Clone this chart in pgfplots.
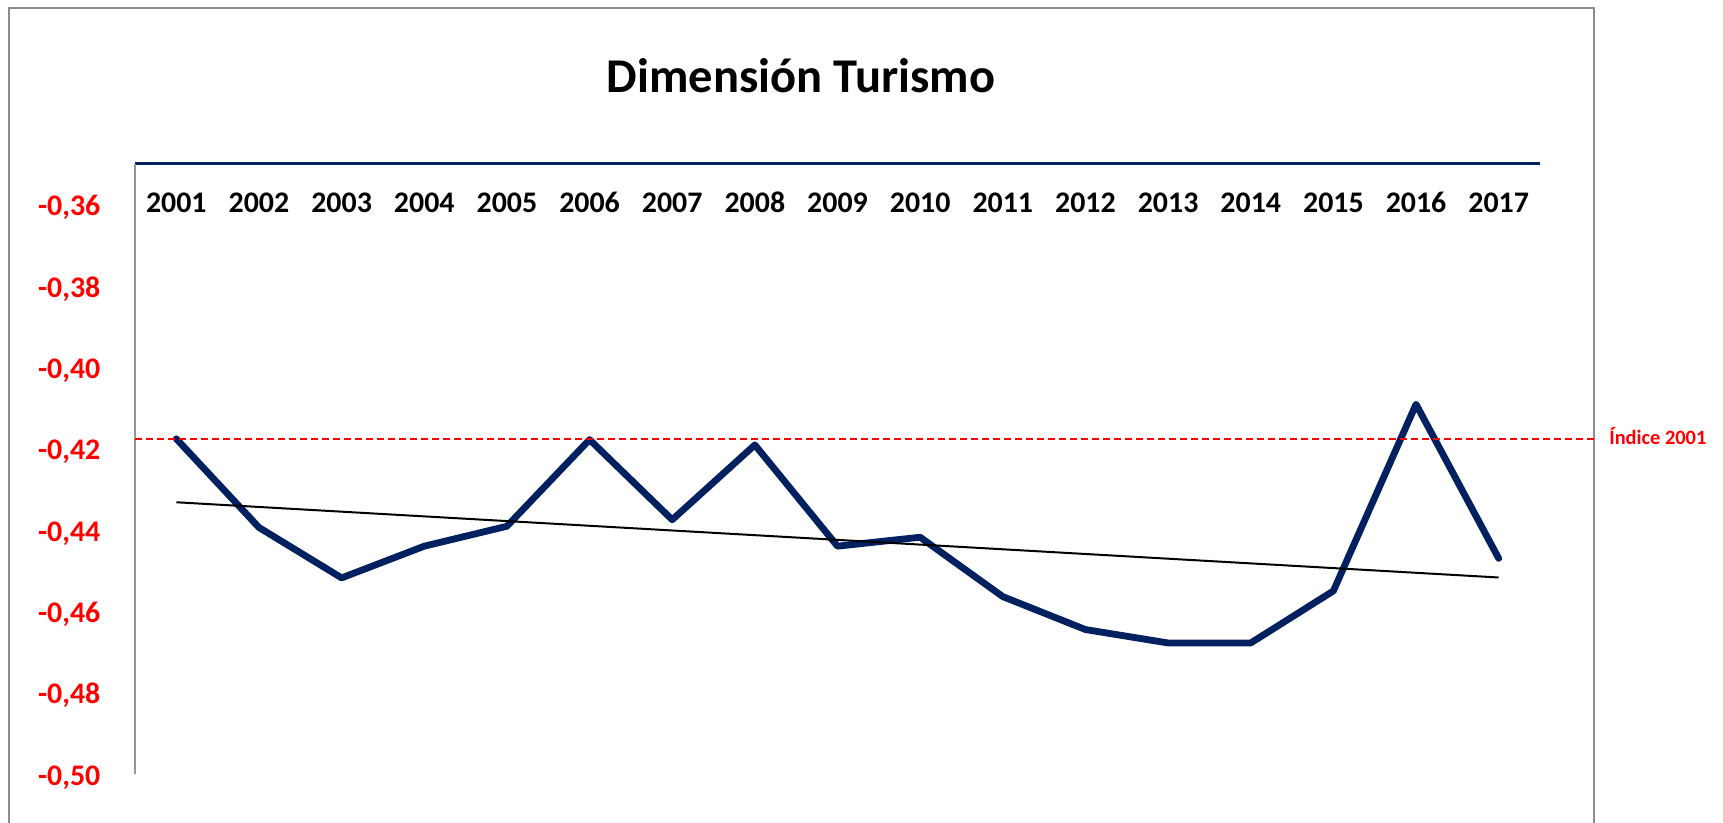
\documentclass[border=0pt]{standalone}
\usepackage{pgfplots}
\pgfplotsset{compat=1.18}
\usepackage{fontspec}
\setmainfont{Carlito}
\definecolor{navy}{HTML}{002060}
\definecolor{framegray}{HTML}{8C8C8C}
\definecolor{axgray}{HTML}{969696}
\definecolor{idxred}{HTML}{FF0000}
\begin{document}
\begin{tikzpicture}
\path[use as bounding box] (0mm,0mm) rectangle (172.3mm,-82.2mm);
\begin{scope}
\clip (0mm,0mm) rectangle (172.3mm,-82.2mm);
\draw[framegray, line width=0.2mm] (0.9mm,-0.75mm) rectangle (159.4mm,-95mm);
\end{scope}
\node[anchor=base, inner sep=0pt, font=\fontsize{13.8}{16}\selectfont\bfseries] at (80.1mm,-9.2mm) {Dimensión Turismo};
\begin{axis}[
  at={(13.5mm,-16.35mm)}, anchor=north west,
  width=140.5mm, height=61mm, scale only axis,
  xmin=2000.5, xmax=2017.5, ymin=-0.50, ymax=-0.35,
  axis x line*=top, axis y line*=left,
  x axis line style={navy, line width=0.25mm, -},
  y axis line style={axgray, line width=0.2mm, -},
  tick style={draw=none}, major tick length=0pt,
  xtick={2001,2002,2003,2004,2005,2006,2007,2008,2009,2010,2011,2012,2013,2014,2015,2016,2017},
  ytick={-0.50,-0.48,-0.46,-0.44,-0.42,-0.40,-0.38,-0.36},
  /pgf/number format/assume math mode=true,
  xticklabel style={font=\fontsize{8.5}{10}\selectfont\bfseries, anchor=base, inner sep=0pt, yshift=-4.9mm, /pgf/number format/1000 sep={}},
  yticklabel style={font=\fontsize{8.5}{10}\selectfont\bfseries, text=idxred, anchor=base east, inner sep=0pt, xshift=-3.4mm, yshift=-1.15mm, /pgf/number format/.cd, fixed, fixed zerofill, precision=2, use comma},
  clip=false,
]
\addplot[navy, line width=0.68mm, line cap=round, line join=round] coordinates {
 (2001,-0.4177) (2002,-0.4395) (2003,-0.4519) (2004,-0.4441) (2005,-0.4392)
 (2006,-0.4179) (2007,-0.4376) (2008,-0.4192) (2009,-0.4441) (2010,-0.4419)
 (2011,-0.4565) (2012,-0.4646) (2013,-0.4679) (2014,-0.4679) (2015,-0.4551)
 (2016,-0.4092) (2017,-0.4471)
};
\addplot[black, line width=0.2mm] coordinates {(2001,-0.4333) (2017,-0.4518)};
\addplot[idxred, line width=0.2mm, dash pattern=on 0.7mm off 0.4mm] coordinates {(2000.5,-0.4177) (2018.15,-0.4177)};
\node[anchor=west, inner sep=0pt, text=idxred, font=\fontsize{5.8}{7}\selectfont\bfseries] at (axis cs:2018.33,-0.4170) {Índice 2001};
\end{axis}
\end{tikzpicture}
\end{document}
